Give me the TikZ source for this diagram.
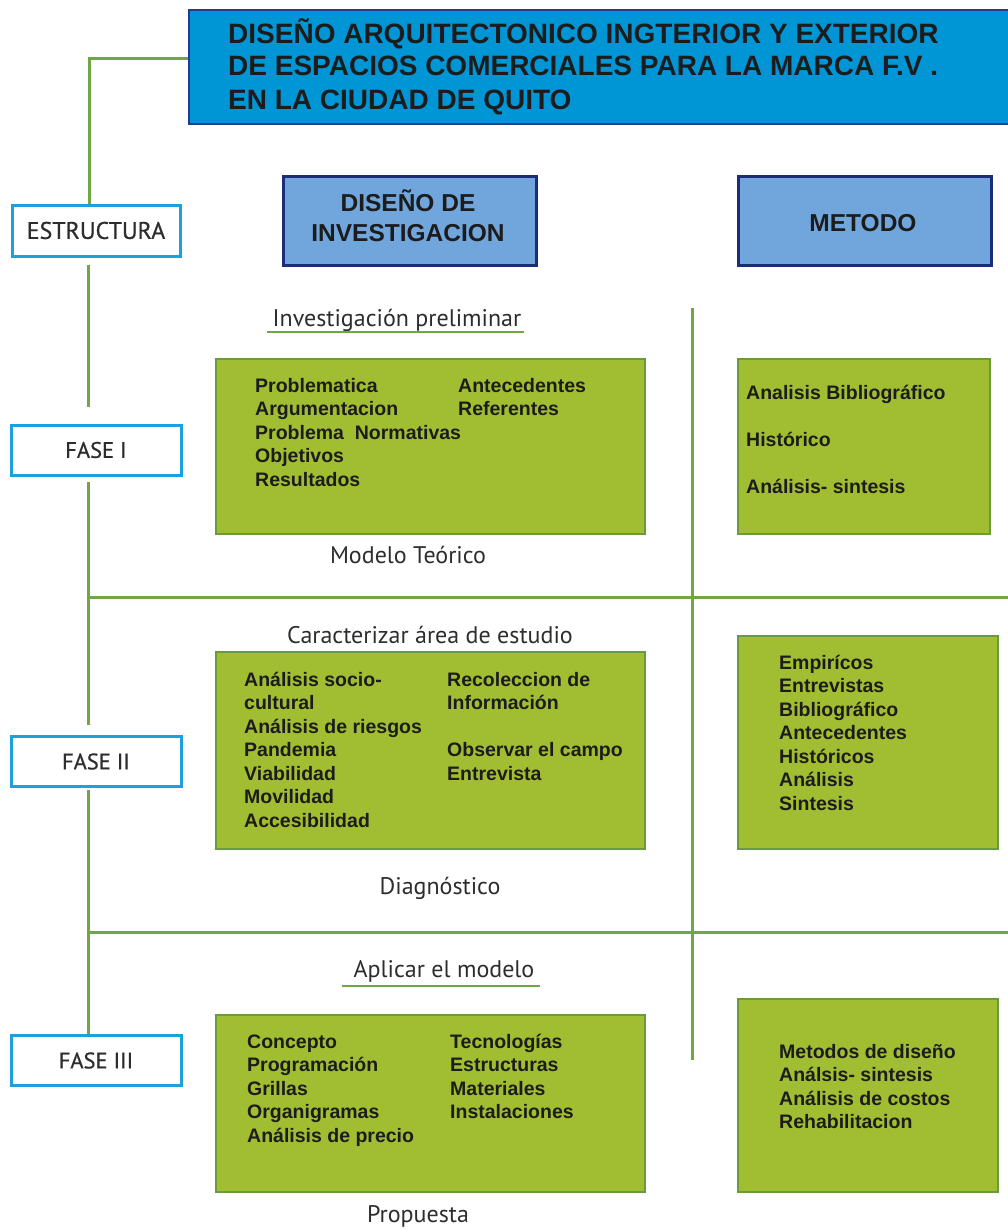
\documentclass[tikz,border=0pt]{standalone}
\usepackage{fontspec}
\setmainfont{Liberation Sans}
\newfontfamily\ptsans{PT Sans}
\newfontfamily\ptsansm[FakeBold=0.6]{PT Sans}
\definecolor{titleblue}{RGB}{0,150,214}
\definecolor{titleborder}{RGB}{35,60,140}
\definecolor{headblue}{RGB}{112,166,220}
\definecolor{headborder}{RGB}{28,45,120}
\definecolor{boxgreen}{RGB}{161,189,49}
\definecolor{boxborder}{RGB}{104,155,62}
\definecolor{linegreen}{RGB}{114,166,66}
\definecolor{faseblue}{RGB}{30,160,222}
\definecolor{txtdark}{RGB}{28,28,28}
\definecolor{lblgray}{RGB}{45,45,45}
\tikzset{
  conn/.style={draw=linegreen, line width=3pt},
  fasebox/.style={draw=faseblue, line width=3pt, fill=white, minimum width=170pt, minimum height=50pt, inner sep=0pt, font=\ptsansm\fontsize{22.5}{26}\selectfont, text=lblgray},
  greenbox/.style={draw=boxborder, fill=boxgreen, line width=2pt, inner sep=0pt, anchor=north west},
  headbox/.style={draw=headborder, fill=headblue, line width=2.5pt, inner sep=0pt, anchor=north west},
  titlebox/.style={draw=titleborder, fill=titleblue, line width=2pt, inner sep=0pt, anchor=north west},
  btxt/.style={font=\bfseries\fontsize{19.5}{23.5}\selectfont, text=txtdark, align=left, inner sep=0pt, anchor=base west},
  htxt/.style={font=\bfseries\fontsize{24.5}{30}\selectfont, text=txtdark, align=center, inner sep=0pt, anchor=base},
  ttxt/.style={font=\bfseries\fontsize{28}{33}\selectfont, text=txtdark, align=left, inner sep=0pt, anchor=base west},
  lbl/.style={font=\ptsans\fontsize{24}{28}\selectfont, text=lblgray, inner sep=0pt, anchor=base},
}
\begin{document}
\begin{tikzpicture}[x=1pt,y=-1pt]
\useasboundingbox (0,0) rectangle (1008,1231);
% title
\node[titlebox, minimum width=830pt, minimum height=114pt] (title) at (188,9) {};
\node[ttxt] (titletext) at (228,109) {DISEÑO ARQUITECTONICO INGTERIOR Y EXTERIOR\\DE ESPACIOS COMERCIALES PARA LA MARCA F.V .\\EN LA CIUDAD DE QUITO};
% headers
\node[headbox, minimum width=253pt, minimum height=89pt] (dinv) at (282,175) {};
\node[htxt] (dinvtext) at (408,241) {DISEÑO DE\\INVESTIGACION};
\node[headbox, minimum width=253pt, minimum height=89pt] (met) at (737,175) {};
\node[htxt] (mettext) at (863,231) {METODO};
% fase boxes
\node[fasebox, minimum width=168pt, minimum height=51pt, font=\ptsansm\fontsize{24}{26}\selectfont] (estr) at (96,230.5) {ESTRUCTURA};
\node[fasebox] (f1) at (96,450) {FASE I};
\node[fasebox] (f2) at (96,761.5) {FASE II};
\node[fasebox] (f3) at (96,1060.5) {FASE III};
% coordinates
\coordinate (tconn) at (188,59);
\coordinate (j1) at (88,597);
\coordinate (r1) at (1008,597);
\coordinate (j2) at (88,932);
\coordinate (r2) at (1008,932);
\coordinate (dtop) at (692,308);
\coordinate (dbot) at (692,1060);
% connectors
\draw[conn] (tconn) -| ([xshift=-7pt]estr.north);
\draw[conn] ([xshift=-8pt,yshift=-7pt]estr.south) -- ([xshift=-8pt,yshift=17pt]f1.north);
\draw[conn] ([xshift=-8pt,yshift=-5pt]f1.south) -- (j1) -- (r1);
\draw[conn] (j1) -- ([xshift=-8pt,yshift=10pt]f2.north);
\draw[conn] ([xshift=-8pt,yshift=-2pt]f2.south) -- (j2) -- (r2);
\draw[conn] (j2) -- ([xshift=-8pt]f3.north);
\draw[conn] (dtop) -- (dbot);
% FASE I
\node[lbl] (lA) at (397,326) {Investigación preliminar};
\coordinate (uA1) at (267,332);
\coordinate (uA2) at (524,332);
\draw[conn, line width=2.5pt] (uA1) -- (uA2);
\node[greenbox, minimum width=429pt, minimum height=175pt] (gA) at (215,358) {};
\node[btxt] (gA1) at (255,486) {Problematica\\Argumentacion\\Problema\ \ Normativas\\Objetivos\\Resultados};
\node[btxt] (gA2) at (458,415.5) {Antecedentes\\Referentes};
\node[lbl] (mA) at (408,563) {Modelo Teórico};
\node[greenbox, minimum width=252pt, minimum height=175pt] (bA) at (737,358) {};
\node[btxt] (bA1) at (746,493) {Analisis Bibliográfico\\[23.5pt]Histórico\\[23.5pt]Análisis- sintesis};
% FASE II
\node[lbl] (lB) at (430,643) {Caracterizar área de estudio};
\node[greenbox, minimum width=429pt, minimum height=197pt] (gB) at (215,651) {};
\node[btxt] (gB1) at (244,827) {Análisis socio-\\cultural\\Análisis de riesgos\\Pandemia\\Viabilidad\\Movilidad\\Accesibilidad};
\node[btxt] (gB2) at (447,780) {Recoleccion de\\Información\\[23.5pt]Observar el campo\\Entrevista};
\node[lbl] (mB) at (440,894) {Diagnóstico};
\node[greenbox, minimum width=260pt, minimum height=213pt] (bB) at (737,635) {};
\node[btxt] (bB1) at (779,810) {Empirícos\\Entrevistas\\Bibliográfico\\Antecedentes\\Históricos\\Análisis\\Sintesis};
% FASE III
\node[lbl] (lC) at (444,977) {Aplicar el modelo};
\coordinate (uC1) at (342,986);
\coordinate (uC2) at (540,986);
\draw[conn, line width=2.5pt] (uC1) -- (uC2);
\node[greenbox, minimum width=429pt, minimum height=177pt] (gC) at (215,1014) {};
\node[btxt] (gC1) at (247,1142) {Concepto\\Programación\\Grillas\\Organigramas\\Análisis de precio};
\node[btxt] (gC2) at (450,1118.5) {Tecnologías\\Estructuras\\Materiales\\Instalaciones};
\node[lbl] (mC) at (418,1222) {Propuesta};
\node[greenbox, minimum width=260pt, minimum height=193pt] (bC) at (737,998) {};
\node[btxt] (bC1) at (779,1128.5) {Metodos de diseño\\Análsis- sintesis\\Análisis de costos\\Rehabilitacion};
\end{tikzpicture}
\end{document}
